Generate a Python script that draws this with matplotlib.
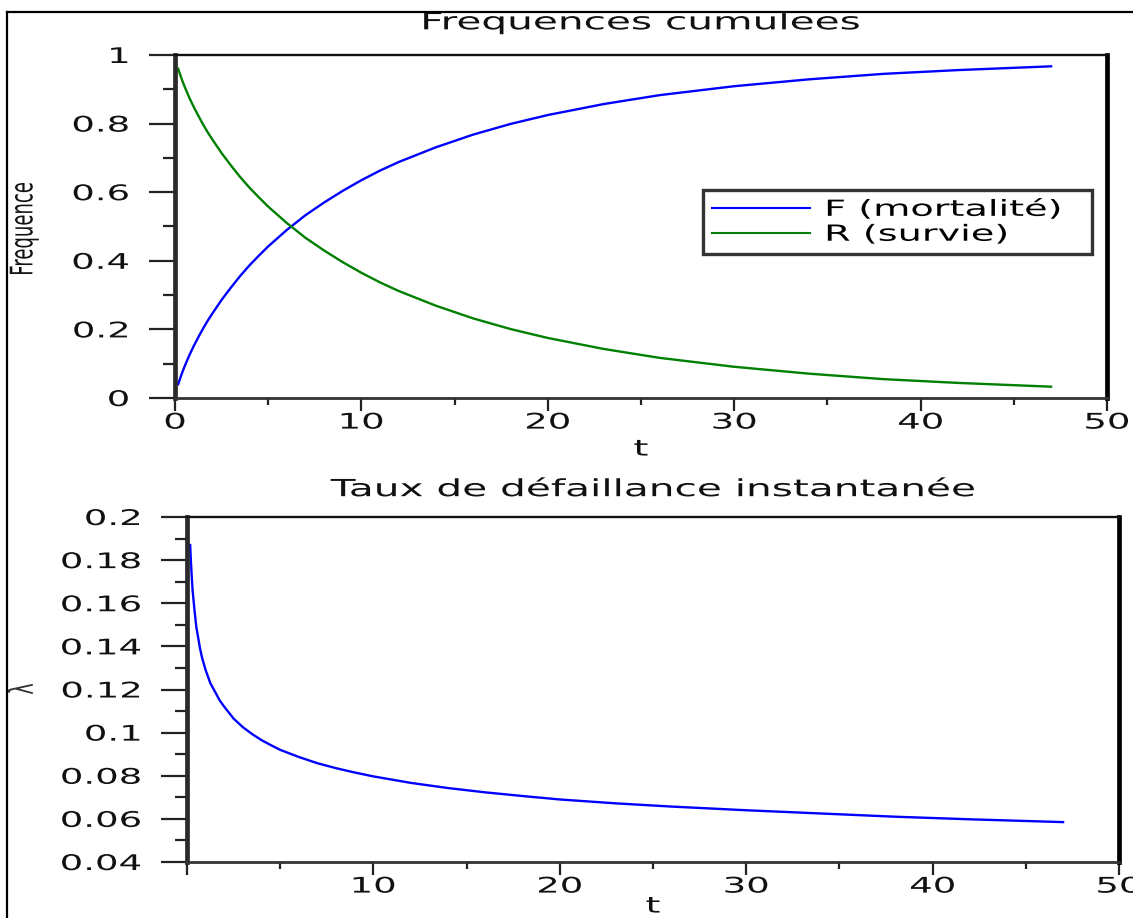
import matplotlib
matplotlib.use('Agg')
import matplotlib.pyplot as plt
from matplotlib.patheffects import AbstractPathEffect
from matplotlib.transforms import Affine2D
from matplotlib.ticker import FixedLocator
from matplotlib.lines import Line2D

# ---- data ----
t = [0.17, 0.2, 0.25, 0.3, 0.4, 0.5, 0.6, 0.7, 0.8, 1, 1.25, 1.5, 1.75, 2, 2.5,
     3, 3.5, 4, 4.5, 5, 6, 7, 8, 9, 10, 11, 12, 14, 16, 18, 20, 23, 26, 30, 34,
     38, 42, 47]
R_survie = [0.960, 0.955, 0.947, 0.939, 0.924, 0.910, 0.897, 0.884, 0.872, 0.849,
            0.823, 0.798, 0.775, 0.754, 0.714, 0.678, 0.644, 0.613, 0.585, 0.558,
            0.510, 0.467, 0.430, 0.396, 0.365, 0.337, 0.312, 0.269, 0.232, 0.201,
            0.175, 0.143, 0.117, 0.091, 0.071, 0.055, 0.044, 0.033]
F_mortalite = [0.040, 0.045, 0.053, 0.061, 0.076, 0.090, 0.103, 0.116, 0.128, 0.151,
               0.177, 0.202, 0.225, 0.246, 0.286, 0.322, 0.356, 0.387, 0.415, 0.442,
               0.490, 0.533, 0.570, 0.604, 0.635, 0.663, 0.688, 0.731, 0.768, 0.799,
               0.825, 0.857, 0.883, 0.909, 0.929, 0.945, 0.956, 0.967]
lam = [0.187, 0.181, 0.173, 0.166, 0.157, 0.149, 0.144, 0.139, 0.135, 0.129,
       0.123, 0.119, 0.115, 0.112, 0.1065, 0.1025, 0.0993, 0.0965, 0.0942, 0.092,
       0.0887, 0.0858, 0.0835, 0.0815, 0.0797, 0.0782, 0.0767, 0.0743, 0.0723, 0.0706,
       0.069, 0.0672, 0.0657, 0.064, 0.0625, 0.061, 0.0598, 0.0585]

top_xticks = [0, 10, 20, 30, 40, 50]
top_xlabels = ['0', '10', '20', '30', '40', '50']
top_yticks = [0, 0.2, 0.4, 0.6, 0.8, 1]
top_ylabels = ['0', '0.2', '0.4', '0.6', '0.8', '1']
bot_xticks = [0, 10, 20, 30, 40, 50]
bot_xlabels = ['', '10', '20', '30', '40', '50']
bot_yticks = [0.04, 0.06, 0.08, 0.1, 0.12, 0.14, 0.16, 0.18, 0.2]
bot_ylabels = ['0.04', '0.06', '0.08', '0.1', '0.12', '0.14', '0.16', '0.18', '0.2']
x_minor = [5, 15, 25, 35, 45]
top_yminor = [0.1, 0.3, 0.5, 0.7, 0.9]
bot_yminor = [0.05, 0.07, 0.09, 0.11, 0.13, 0.15, 0.17, 0.19]

SX = 1.72  # horizontal stretch of the lettering in the reference


class HStretch(AbstractPathEffect):
    """Stretch drawn text horizontally about a pivot (left/right/center)."""
    def __init__(self, sx=SX, pivot='center'):
        super().__init__()
        self.sx = sx
        self.pivot = pivot

    def draw_path(self, renderer, gc, tpath, affine, rgbFace=None):
        ext = tpath.get_extents(affine)
        if self.pivot == 'left':
            p = ext.x0
        elif self.pivot == 'right':
            p = ext.x1
        else:
            p = 0.5 * (ext.x0 + ext.x1)
        tr = affine + Affine2D().translate(-p, 0).scale(self.sx, 1).translate(p, 0)
        renderer.draw_path(gc, tpath, tr, rgbFace)


W, H = 1133, 918
fig = plt.figure(figsize=(W / 100, H / 100), dpi=100)
fig.patch.set_facecolor('white')


def px_rect(l, tp, r, b):
    return [l / W, 1 - b / H, (r - l) / W, (b - tp) / H]


ax1 = fig.add_axes(px_rect(175, 55, 1107, 398))
ax2 = fig.add_axes(px_rect(187, 517, 1119, 862))

TXT = '#111111'


def style(ax):
    ax.spines['left'].set_linewidth(3.4)
    ax.spines['left'].set_color('#2a2a2a')
    ax.spines['right'].set_linewidth(3.4)
    ax.spines['right'].set_color('black')
    ax.spines['top'].set_linewidth(1.7)
    ax.spines['top'].set_color('#111111')
    ax.spines['bottom'].set_linewidth(2.0)
    ax.spines['bottom'].set_color('#333333')
    ax.tick_params(axis='y', which='major', length=19, width=1.6, direction='out',
                   pad=14, labelsize=15.5, color='#222222', labelcolor=TXT)
    ax.tick_params(axis='y', which='minor', length=9, width=1.6, direction='out',
                   color='#222222')
    ax.tick_params(axis='x', which='major', length=9.5, width=1.6, direction='out',
                   pad=1, labelsize=15.5, color='#222222', labelcolor=TXT)
    ax.tick_params(axis='x', which='minor', length=5, width=1.6, direction='out',
                   color='#222222')


# ---- top: cumulative frequencies ----
ax1.plot(t, F_mortalite, color='#0000ff', lw=1.7, label='F (mortalité)')
ax1.plot(t, R_survie, color='#008000', lw=1.7, label='R (survie)')
ax1.set_xlim(0, 50)
ax1.set_ylim(0, 1)
ax1.set_xticks(top_xticks)
ax1.set_xticklabels(top_xlabels)
ax1.set_yticks(top_yticks)
ax1.set_yticklabels(top_ylabels)
ax1.xaxis.set_minor_locator(FixedLocator(x_minor))
ax1.yaxis.set_minor_locator(FixedLocator(top_yminor))
style(ax1)
ax1.set_title('Frequences cumulees', fontsize=17, color=TXT, pad=18.5)
ax1.set_xlabel('t', fontsize=16, color=TXT, labelpad=5)
ax1.set_ylabel('Frequence', fontsize=13, color=TXT, va='center')
ax1.yaxis.set_label_coords((24 - 175) / 932, (398 - 229) / 343)

leg = ax1.legend(loc='upper left',
                 bbox_to_anchor=(703 / W, 1 - 253 / H, (1092 - 703) / W, 63 / H),
                 bbox_transform=fig.transFigure, mode='expand', borderaxespad=0,
                 fontsize=16, fancybox=False, framealpha=1, handlelength=4.4,
                 handletextpad=0.7, borderpad=0.42, labelspacing=0.22)
leg.get_frame().set_linewidth(2.4)
leg.get_frame().set_edgecolor('#333333')
for ln in leg.get_lines():
    ln.set_linewidth(1.5)

# ---- bottom: instantaneous failure rate ----
ax2.plot(t, lam, color='#0000ff', lw=1.7)
ax2.set_xlim(0, 50)
ax2.set_ylim(0.04, 0.2)
ax2.set_xticks(bot_xticks)
ax2.set_xticklabels(bot_xlabels)
ax2.set_yticks(bot_yticks)
ax2.set_yticklabels(bot_ylabels)
ax2.xaxis.set_minor_locator(FixedLocator(x_minor))
ax2.yaxis.set_minor_locator(FixedLocator(bot_yminor))
style(ax2)
ax2.set_title('Taux de défaillance instantanée', fontsize=17, color=TXT, pad=15)
ax2.set_xlabel('t', fontsize=16, color=TXT, labelpad=0)
ax2.set_ylabel('λ', fontsize=14, color='#333333', va='center')
ax2.yaxis.set_label_coords((22 - 187) / 932, (862 - 689) / 345)

# outer frame (left and top edges visible)
fig.add_artist(Line2D([7 / W, 7 / W], [0, 1 - 12 / H], transform=fig.transFigure,
                      color='black', lw=1.6, zorder=20))
fig.add_artist(Line2D([7 / W, 1], [1 - 12 / H, 1 - 12 / H], transform=fig.transFigure,
                      color='black', lw=1.6, zorder=20))

fig.canvas.draw()
for ax in (ax1, ax2):
    for tk in ax.xaxis.get_major_ticks():
        tk.label1.set_path_effects([HStretch(SX, 'center')])
    for tk in ax.yaxis.get_major_ticks():
        tk.label1.set_path_effects([HStretch(SX, 'right')])
    ax.title.set_path_effects([HStretch(SX, 'center')])
    ax.xaxis.label.set_path_effects([HStretch(SX, 'center')])
    ax.yaxis.label.set_path_effects([HStretch(SX, 'center')])
for txt in leg.get_texts():
    txt.set_path_effects([HStretch(SX, 'left')])

fig.savefig('out.png', dpi=100)
